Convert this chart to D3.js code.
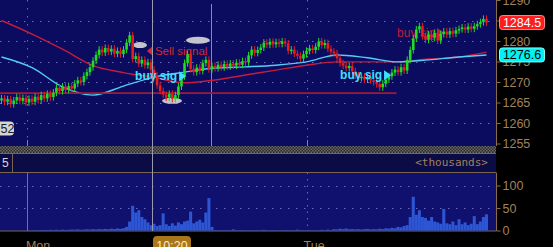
<!DOCTYPE html>
<html>
<head>
<meta charset="utf-8">
<script src="https://cdn.jsdelivr.net/npm/d3@7"></script>
<style>
  body { margin: 0; background: #000; }
  svg { display: block; }
</style>
</head>
<body>
<div id="chart"></div>
<script>
// ---------- data ----------
const firstOpen = 1265.5;
const closes = [
  1266.0,1265.2,1265.8,1264.6,1265.5,1266.3,1265.4,1266.1,1265.0,1265.9,
  1265.2,1266.4,1265.6,1266.8,1266.0,1267.1,1266.3,1267.4,1268.6,1267.8,
  1268.9,1268.1,1269.0,1268.4,1269.6,1270.4,1270.0,1271.5,1272.4,1273.6,
  1275.2,1276.6,1277.9,1277.2,1278.3,1277.4,1278.1,1276.9,1277.6,1276.8,
  1277.9,1279.6,1281.4,1275.6,1276.3,1274.5,1275.4,1274.1,1274.8,1273.0,
  1271.6,1269.2,1267.8,1266.9,1266.2,1267.1,1265.9,1266.8,1268.9,1271.4,
  1274.6,1276.8,1273.2,1272.4,1273.5,1272.7,1274.6,1275.4,1273.1,1273.9,
  1273.4,1274.2,1273.6,1274.4,1273.8,1274.5,1274.0,1274.7,1274.2,1275.1,
  1274.8,1276.5,1277.9,1277.1,1277.8,1278.4,1279.6,1279.1,1279.8,1279.2,
  1279.7,1279.3,1279.9,1279.4,1277.6,1277.9,1276.9,1276.4,1275.7,1276.8,
  1277.6,1278.2,1277.8,1278.6,1279.9,1279.0,1279.5,1278.1,1277.4,1277.0,
  1275.8,1274.6,1274.0,1273.4,1273.9,1272.6,1271.6,1271.0,1271.3,1270.6,
  1271.1,1270.4,1270.0,1269.5,1268.7,1269.6,1270.6,1271.4,1272.3,1273.0,
  1272.4,1273.6,1272.8,1275.4,1277.8,1280.6,1282.8,1283.6,1281.2,1280.3,
  1281.6,1280.8,1282.0,1280.1,1281.7,1282.3,1281.6,1282.4,1281.8,1282.6,
  1282.9,1283.3,1282.8,1283.5,1283.0,1283.6,1284.1,1284.6,1285.4,1284.5
];
// volume in thousands, one per bar
const volumes = [
  0,0,0,0,0,0,0,0,0,
  0.5,0.6,0.4,0.8,
  1,1.2,0.8,1.5,1,1.8,1.2,2,1.4,1.6,2.2,1.8,2.5,1.6,2,2.8,2.2,3,2.4,3.2,2.6,3.5,2.8,4,3.2,4.5,3.6,5,
  8,
  20,55,40,45,30,25,18,12,
  15,10,12,38,14,10,16,11,18,14,20,22,42,16,20,24,18,40,72,8,
  1,0.5,0.8,0.6,1,0.5,2.5,0.8,0.6,1.2,0.5,0.7,1,0.6,0.8,0.5,
  1.5,0.7,0.6,1,0.8,0.5,0.6,1.2,0.8,0.6,0.5,2,0.7,0.6,0.8,1,
  0.6,0.5,0.7,1.5,0.8,2,1.2,3,2.5,4,3,4.5,2.8,3.2,2.5,3,
  2.2,2.8,3.5,2.4,3,2.6,4,3.2,5,4.2,6,5,8,7,10,12,
  30,75,35,45,30,28,22,30,20,18,15,48,16,14,20,12,25,14,18,12,15,32,14,20,30,36
];
const maIndex = [0,10,20,30,40,50,60,70,80,90,100,110,120,130,140,150,159];
const maSlow = [1285.0,1281.7,1278.0,1274.0,1272.3,1271.1,1269.8,1270.5,1271.7,1272.9,1274.1,1274.9,1274.9,1274.9,1275.6,1276.1,1277.3];
const maFast = [1276.1,1273.5,1268.8,1266.8,1269.0,1271.2,1272.4,1273.4,1273.7,1274.1,1274.9,1276.6,1275.9,1274.9,1275.4,1276.1,1276.6];
const supportLevel = 1267.3;
const supportEnd = 130;
const priceTicks = [1255,1260,1265,1270,1275,1280,1285,1290];
const hiddenTicks = [1285]; // label sits under the last-price badge
const volumeTicks = [0,50,100];
const dayStarts = [9, 100.6];
const dayLabels = [{ i: 12.5, text: 'Mon' }, { i: 103, text: 'Tue' }];
const cursorIndex = 49.7;
const cursorLabel = '10:20';
const markerIndex = 69.2;
const sideValue = '52';
const volPeriod = '5';
const notes = [
  { text: 'Sell signal', i: 50.8, v: 1276.6, color: '#d42a2a', dir: 'left', weight: 'normal', size: 11.5, top: false },
  { text: 'buy sig', i: 130.2, v: 1281.0, color: '#b8203a', dir: 'right', weight: 'normal', size: 12, top: false },
  { text: 'buy sig', i: 44.3, v: 1270.4, color: '#3ee0ff', dir: 'right', weight: 'bold', size: 12, top: true },
  { text: 'buy sig', i: 111.5, v: 1270.7, color: '#3ee0ff', dir: 'right', weight: 'bold', size: 12, top: true }
];
const ovals = [
  { i: 45.9, v: 1279.0, rx: 7, ry: 3 },
  { i: 64.9, v: 1280.2, rx: 12, ry: 3.5 },
  { i: 56.4, v: 1265.4, rx: 10, ry: 3 }
];

// ---------- layout ----------
const W = 553, H = 247;
const plotRight = 496;
const mainBottom = 146;
const volTop = 172.5, volBottom = 231;
const tan = '#a0825a';
const gridColor = '#6a6ab8';

const svg = d3.select('#chart').append('svg').attr('width', W).attr('height', H);
svg.append('rect').attr('width', W).attr('height', H).attr('fill', '#000');

const defs = svg.append('defs');
const hatch = defs.append('pattern').attr('id', 'hatch').attr('width', 3).attr('height', 3)
  .attr('patternUnits', 'userSpaceOnUse');
hatch.append('rect').attr('width', 3).attr('height', 3).attr('fill', '#2a2a2a');
hatch.append('rect').attr('width', 1.5).attr('height', 1.5).attr('fill', '#6a6a6a');
hatch.append('rect').attr('x', 1.5).attr('y', 1.5).attr('width', 1.5).attr('height', 1.5).attr('fill', '#6a6a6a');
defs.append('clipPath').attr('id', 'mainClip').append('rect')
  .attr('width', plotRight).attr('height', mainBottom);

/* ----------backgrounds------------*/
svg.append('rect').attr('width', plotRight).attr('height', mainBottom).attr('fill', '#0b0b60');
svg.append('rect').attr('y', mainBottom).attr('width', plotRight).attr('height', 7).attr('fill', 'url(#hatch)');
svg.append('rect').attr('y', 153).attr('width', plotRight).attr('height', 19.5).attr('fill', '#0b0b46');
svg.append('rect').attr('y', volTop).attr('width', plotRight).attr('height', volBottom - volTop).attr('fill', '#10106e');
[153.5, 172.5, 231].forEach(yy => {
  svg.append('line').attr('x1', 0).attr('x2', plotRight).attr('y1', yy).attr('y2', yy)
    .attr('stroke', '#7a6650').attr('stroke-width', 1);
});
svg.append('line').attr('x1', 12.5).attr('x2', 12.5).attr('y1', 153.5).attr('y2', 172.5).attr('stroke', '#7a6650');

// ---------- scales ----------
const x = d3.scaleLinear().domain([0, closes.length]).range([0, 488]);
const y = d3.scaleLinear().domain([1255, 1290]).range([143.5, 0]);
const yVol = d3.scaleLinear().domain([0, 100]).range([230.5, 185.5]);

/* ----------grid------------*/
const grid = svg.append('g');
grid.selectAll('.hg').data(priceTicks.filter(t => t > 1255 && t < 1290)).enter().append('line')
  .attr('x1', 0).attr('x2', plotRight)
  .attr('y1', d => Math.round(y(d)) + 0.5).attr('y2', d => Math.round(y(d)) + 0.5)
  .attr('stroke', gridColor).attr('stroke-dasharray', '1.5,6.5');
grid.selectAll('.vg').data(volumeTicks.filter(t => t > 0)).enter().append('line')
  .attr('x1', 0).attr('x2', plotRight)
  .attr('y1', d => Math.round(yVol(d)) + 0.5).attr('y2', d => Math.round(yVol(d)) + 0.5)
  .attr('stroke', gridColor).attr('stroke-dasharray', '1.5,6.5');
dayStarts.forEach(d => {
  const xx = Math.round(x(d)) + 0.5;
  grid.append('line').attr('x1', xx).attr('x2', xx).attr('y1', 0).attr('y2', mainBottom)
    .attr('stroke', gridColor).attr('stroke-dasharray', '1.5,6.5');
  grid.append('line').attr('x1', xx).attr('x2', xx).attr('y1', 140).attr('y2', mainBottom).attr('stroke', tan);
  grid.append('line').attr('x1', xx).attr('x2', xx).attr('y1', volTop).attr('y2', volBottom)
    .attr('stroke', d === dayStarts[0] ? '#8a7050' : gridColor)
    .attr('stroke-dasharray', d === dayStarts[0] ? null : '1.5,5');
});

/* ----------volume bars------------*/
svg.append('g').selectAll('rect').data(volumes).enter().append('rect')
  .attr('x', (d, i) => x(i))
  .attr('width', x(1) - x(0))
  .attr('y', d => yVol(d))
  .attr('height', d => yVol(0) - yVol(d))
  .attr('fill', '#2c56d4');

/* ----------main panel------------*/
const main = svg.append('g').attr('clip-path', 'url(#mainClip)');

// vertical marker
main.append('line').attr('x1', Math.round(x(markerIndex)) + 0.5).attr('x2', Math.round(x(markerIndex)) + 0.5)
  .attr('y1', 4).attr('y2', mainBottom).attr('stroke', '#8a8aa0');

// moving averages
const maLine = vals => d3.line()
  .x((d, k) => x(maIndex[k] + 0.5))
  .y(d => y(d))
  .curve(d3.curveMonotoneX)(vals);
main.append('path').attr('d', maLine(maSlow)).attr('fill', 'none')
  .attr('stroke', '#c41c3c').attr('stroke-width', 1.4);
main.append('path').attr('d', maLine(maFast)).attr('fill', 'none')
  .attr('stroke', '#52cef6').attr('stroke-width', 1.4);

// support level
main.append('line').attr('x1', 0).attr('x2', x(supportEnd))
  .attr('y1', y(supportLevel)).attr('y2', y(supportLevel))
  .attr('stroke', '#a8182e').attr('stroke-width', 1.8);

// ovals
main.selectAll('ellipse').data(ovals).enter().append('ellipse')
  .attr('cx', d => x(d.i)).attr('cy', d => y(d.v))
  .attr('rx', d => d.rx).attr('ry', d => d.ry)
  .attr('fill', '#c4c4cc');

function drawNote(g, n) {
  const tx = x(n.i), ty = y(n.v);
  const t = g.append('text').attr('x', tx).attr('y', ty)
    .attr('fill', n.color).attr('font-family', 'Liberation Sans, Arial, sans-serif')
    .attr('font-size', n.size).attr('font-weight', n.weight)
    .text(n.text);
  const w = t.node().getComputedTextLength();
  const cy = ty - 4;
  const p = n.dir === 'left'
    ? `M${tx - 8},${cy} L${tx - 2},${cy - 5} L${tx - 2},${cy + 5} Z`
    : `M${tx + w + 9},${cy} L${tx + w + 2},${cy - 5} L${tx + w + 2},${cy + 5} Z`;
  g.append('path').attr('d', p).attr('fill', n.color);
}
notes.filter(n => !n.top).forEach(n => drawNote(main, n));

// candles
const bars = closes.map((c, i) => ({ i, o: i === 0 ? firstOpen : closes[i - 1], c }));
const barColor = d => d.c > d.o ? '#22dc22' : (d.c < d.o ? '#e61e1e' : '#c8c820');
const candles = main.append('g').selectAll('g').data(bars).enter().append('g');
candles.append('line')
  .attr('x1', d => x(d.i + 0.5)).attr('x2', d => x(d.i + 0.5))
  .attr('y1', d => y(Math.max(d.o, d.c)) - 3.5)
  .attr('y2', d => y(Math.min(d.o, d.c)) + 3.5)
  .attr('stroke', barColor).attr('stroke-width', 1);
candles.append('rect')
  .attr('x', d => x(d.i + 0.5) - 1.3).attr('width', 2.6)
  .attr('y', d => y(Math.max(d.o, d.c)))
  .attr('height', d => Math.max(1.5, Math.abs(y(d.o) - y(d.c))))
  .attr('fill', barColor);

notes.filter(n => n.top).forEach(n => drawNote(main, n));

// cursor line
const cx = Math.round(x(cursorIndex)) + 0.5;
svg.append('line').attr('x1', cx).attr('x2', cx).attr('y1', 0).attr('y2', volBottom)
  .attr('stroke', '#9a9aac').attr('stroke-width', 1);

/* ----------axes------------*/
const axisFont = 'Liberation Sans, Arial, sans-serif';
const yAxis = svg.append('g').attr('transform', `translate(${plotRight + 0.5},0)`)
  .call(d3.axisRight(y).tickValues(priceTicks).tickSize(4).tickSizeOuter(0).tickPadding(2)
    .tickFormat(d => hiddenTicks.includes(d) ? '' : d3.format('d')(d)));
const vAxis = svg.append('g').attr('transform', `translate(${plotRight + 0.5},0)`)
  .call(d3.axisRight(yVol).tickValues(volumeTicks).tickSize(4).tickSizeOuter(0).tickPadding(2).tickFormat(d3.format('d')));
[yAxis, vAxis].forEach(a => {
  a.select('.domain').attr('stroke', '#8a6c48');
  a.selectAll('line').attr('stroke', '#8a6c48');
  a.selectAll('text').attr('fill', tan).attr('font-size', 12.5).attr('font-family', axisFont);
});
vAxis.select('.domain').attr('d', `M0,${volTop}V${volBottom}`);
yAxis.select('.domain').attr('d', `M0,0V${mainBottom}`);

// price badges
function badge(v, fill, stroke, textColor) {
  const by = y(v);
  svg.append('rect').attr('x', 499.5).attr('y', by - 7).attr('width', 45).attr('height', 14)
    .attr('rx', 3).attr('fill', fill).attr('stroke', stroke);
  svg.append('text').attr('x', 522).attr('y', by + 4.5).attr('text-anchor', 'middle')
    .attr('fill', textColor).attr('font-size', 12.5).attr('font-family', axisFont)
    .text(d3.format('.1f')(v));
}
badge(closes[closes.length - 1], '#ff1c1c', '#ff8a8a', '#ffffff');
badge(maFast[maFast.length - 1], '#00f2f2', '#80ffff', '#000000');

// left value tag
svg.append('rect').attr('x', -6).attr('y', 121.5).attr('width', 20).attr('height', 14).attr('rx', 4)
  .attr('fill', '#d4d4d4');
svg.append('text').attr('x', 0.5).attr('y', 133).attr('fill', '#202020').attr('font-size', 12.5)
  .attr('font-family', axisFont).text(sideValue);

// volume header
svg.append('text').attr('x', 2).attr('y', 167).attr('fill', '#d8d8d8').attr('font-size', 12)
  .attr('font-family', axisFont).text(volPeriod);
svg.append('text').attr('x', 488).attr('y', 166).attr('text-anchor', 'end').attr('fill', tan)
  .attr('font-size', 11).attr('font-family', 'DejaVu Sans Mono, monospace').text('<thousands>');

/* ----------time labels------------*/
svg.selectAll('.day').data(dayLabels).enter().append('text')
  .attr('x', d => x(d.i)).attr('y', 250).attr('text-anchor', 'middle')
  .attr('fill', tan).attr('font-size', 12.5).attr('font-family', axisFont)
  .text(d => d.text);
svg.append('rect').attr('x', cx + 0.5).attr('y', 236).attr('width', 38).attr('height', 16).attr('rx', 4)
  .attr('fill', '#aa761a');
svg.append('text').attr('x', cx + 19.5).attr('y', 249.5).attr('text-anchor', 'middle')
  .attr('fill', '#f6e8cc').attr('font-size', 12.5).attr('font-family', axisFont).text(cursorLabel);
</script>
</body>
</html>
